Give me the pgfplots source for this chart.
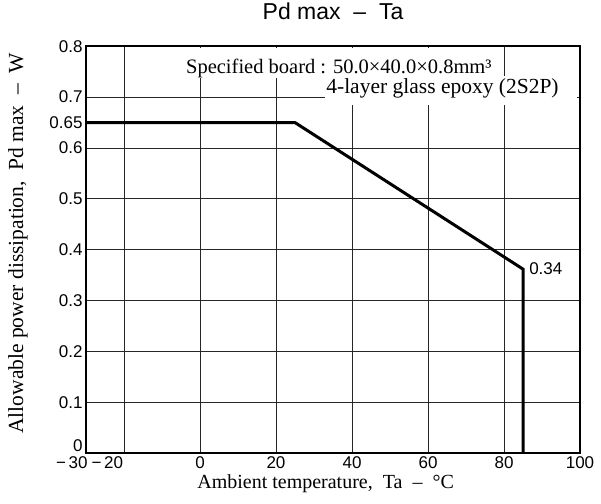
\documentclass[border=0pt]{standalone}
\usepackage{fontspec}
\setmainfont{Liberation Serif}
\newfontfamily\sans{Liberation Sans}
\usepackage{pgfplots}
\pgfplotsset{compat=1.18}

\begin{document}
\begin{tikzpicture}
\begin{axis}[
    scale only axis,
    width=494pt, height=407pt,
    xmin=-30, xmax=100,
    ymin=0, ymax=0.8,
    xtick={-30,-20,0,20,40,60,80,100},
    xticklabels={\hspace*{3pt}\makebox[0pt][r]{−\hspace{2.5pt}30},\makebox[0pt][r]{−\hspace{2.5pt}20}\hspace*{2pt},0,20,40,60,80,100},
    ytick={0,0.1,0.2,0.3,0.4,0.5,0.6,0.7,0.8},
    yticklabels={\raisebox{1.5pt}[0pt][0pt]{0},0.1,0.2,0.3,0.4,0.5,0.6,0.7,0.8},
    extra y ticks={0.65},
    extra y tick labels={0.65},
    extra y tick style={grid=none},
    major tick length=0pt,
    grid=major,
    major grid style={black!85, line width=0.8pt},
    axis line style={line width=1.6pt},
    /pgf/number format/assume math mode=true,
    tick label style={font=\sans\fontsize{17}{17}\selectfont},
    title={Pd max\ \ –\ \ Ta},
    title style={font=\sans\fontsize{23}{23}\selectfont, at={(axis description cs:0.5,1.07)}, anchor=center},
    xlabel={Ambient temperature,\ \ Ta\ \ –\ \ °C},
    xlabel style={font=\fontsize{20}{20}\selectfont, at={(axis description cs:0.485,-0.0737)}, anchor=center},
    ylabel={Allowable power dissipation,\ \ Pd max\ \ –\ \ W},
    ylabel style={font=\fontsize{21.5}{21.5}\selectfont, at={(axis description cs:-0.1377,0.516)}, rotate=0, anchor=center},
    clip=false,
]
\fill[white] (axis cs:-5,0.797) rectangle (axis cs:79,0.737);
\fill[white] (axis cs:33,0.741) rectangle (axis cs:99.3,0.685);
\addplot[black, line width=3pt, line join=miter] coordinates {
    (-30,0.65) (25,0.65) (85,0.362) (85,0)
};
\node[anchor=base west, inner sep=0pt, font=\fontsize{20.5}{20.5}\selectfont] at (axis cs:-3.7,0.747) {Specified board : 50.0×40.0×0.8mm³};
\node[anchor=base west, inner sep=0pt, font=\fontsize{21.5}{21.5}\selectfont] at (axis cs:33.2,0.708) {4-layer glass epoxy (2S2P)};
\node[anchor=west, inner sep=0pt, font=\sans\fontsize{17}{17}\selectfont] at (axis cs:86.6,0.362) {0.34};
\end{axis}
\path ([xshift=-86pt,yshift=-50pt]current axis.south west) rectangle ([xshift=21pt,yshift=43pt]current axis.north east);
\end{tikzpicture}
\end{document}
